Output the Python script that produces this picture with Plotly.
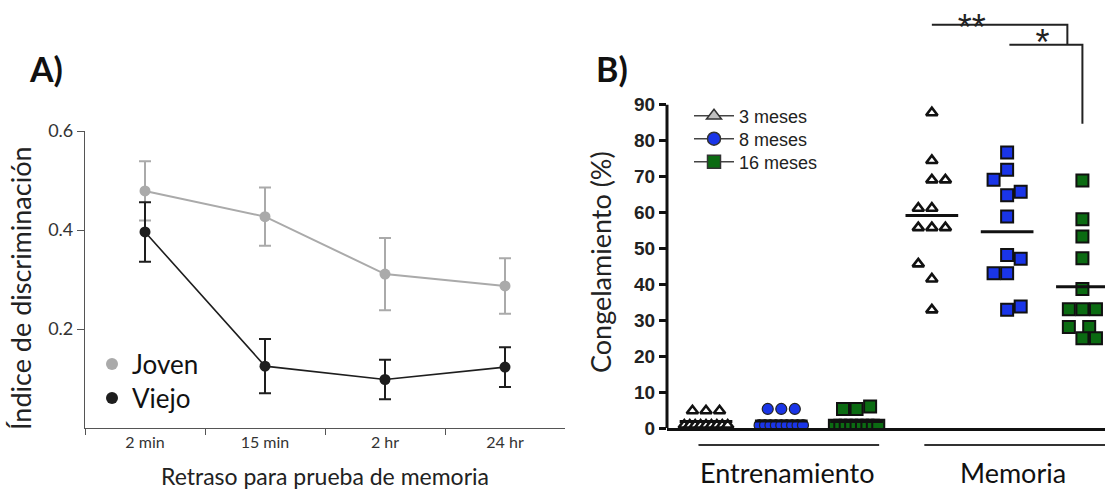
import numpy as np
import plotly.graph_objects as go

# ---------------- Panel A data ----------------
delays = ["2 min", "15 min", "2 hr", "24 hr"]
joven_mean = [0.479, 0.427, 0.311, 0.287]
joven_err = [0.060, 0.059, 0.073, 0.056]
viejo_mean = [0.396, 0.125, 0.098, 0.123]
viejo_err = [0.060, 0.055, 0.040, 0.040]
a_ticks = [0.2, 0.4, 0.6]

# ---------------- Panel B data ----------------
phases = ["Entrenamiento", "Memoria"]
ages = ["3 meses", "8 meses", "16 meses"]
# values (%) and beeswarm column index for each animal
ent_3m = [4.8, 4.8, 4.8, 0.8, 0.8, 0.8, 0.8, 0.8, 0.8, 0.8, 0.8, 0.8]
ent_3m_col = [-1, 0, 1, -1.6, -1.2, -0.8, -0.4, 0, 0.4, 0.8, 1.2, 1.6]
ent_8m = [5.3, 5.3, 5.3, 0.8, 0.8, 0.8, 0.8, 0.8, 0.8, 0.8, 0.8, 0.8]
ent_8m_col = [-1, 0, 1, -1.6, -1.2, -0.8, -0.4, 0, 0.4, 0.8, 1.2, 1.6]
ent_16m = [5.3, 5.3, 6.0, 0.6, 0.6, 0.6, 0.6, 0.6, 0.6, 0.6, 0.6, 0.6]
ent_16m_col = [-1, 0, 1, -1.6, -1.2, -0.8, -0.4, 0, 0.4, 0.8, 1.2, 1.6]
mem_3m = [87.8, 74.5, 69.1, 69.1, 61.2, 61.2, 55.8, 55.8, 55.8, 45.7, 41.5, 32.9]
mem_3m_col = [0, 0, 0, 1, -1, 0, -1, 0, 1, -1, 0, 0]
mem_8m = [76.7, 71.9, 69.1, 64.8, 65.8, 58.9, 48.2, 47.1, 43.1, 43.1, 32.9, 33.8]
mem_8m_col = [0, 0, -1, 0, 1, 0, 0, 1, -1, 0, 0, 1]
mem_16m = [68.9, 58.1, 53.3, 47.3, 38.7, 33.1, 33.1, 33.1, 28.1, 28.1, 25.0, 25.0]
mem_16m_col = [0, 0, 0, 0, 0, -1, 0, 1, -1, 0.5, 0, 1]
b_ticks = [0, 10, 20, 30, 40, 50, 60, 70, 80, 90]
# significance comparisons: (from group, to group, bracket level %, drop to %)
sig_labels = ["**", "*"]

# ---------------- styles ----------------
GRAY = "#aaaaaa"
DARK = "#1e1e1e"
BLUE = "#1a35e8"
GREEN = "#0b6b12"
FA = "Lato, Open Sans, sans-serif"
FB = "Liberation Sans, Arial, sans-serif"
W, H = 1113, 489
COLSTEP = 0.18

fig = go.Figure()

# ---- Panel A traces ----
fig.add_trace(go.Scatter(
    x=delays, y=joven_mean, mode="lines+markers", xaxis="x", yaxis="y",
    line=dict(color=GRAY, width=2), marker=dict(color=GRAY, size=11),
    error_y=dict(type="data", array=joven_err, color=GRAY, thickness=2, width=6),
    showlegend=False))
fig.add_trace(go.Scatter(
    x=delays, y=viejo_mean, mode="lines+markers", xaxis="x", yaxis="y",
    line=dict(color=DARK, width=1.6), marker=dict(color=DARK, size=11),
    error_y=dict(type="data", array=viejo_err, color=DARK, thickness=2, width=6),
    showlegend=False))
fig.add_trace(go.Scatter(x=[None], y=[None], mode="markers", name="Joven",
                         marker=dict(color=GRAY, size=12), legend="legend",
                         xaxis="x", yaxis="y"))
fig.add_trace(go.Scatter(x=[None], y=[None], mode="markers", name="Viejo",
                         marker=dict(color=DARK, size=12), legend="legend5",
                         xaxis="x", yaxis="y"))

# ---- Panel B traces ----
groups = [
    (0, 0, ent_3m, ent_3m_col), (0, 1, ent_8m, ent_8m_col), (0, 2, ent_16m, ent_16m_col),
    (1, 0, mem_3m, mem_3m_col), (1, 1, mem_8m, mem_8m_col), (1, 2, mem_16m, mem_16m_col),
]
tri = dict(symbol="triangle-up", size=10, color="white", line=dict(color="#111", width=2.6))
circ = dict(symbol="circle", size=11, color=BLUE, line=dict(color="#222", width=1.2))
sq_blue = dict(symbol="square", size=12, color=BLUE, line=dict(color="#111", width=2))
sq_green = dict(symbol="square", size=12, color=GREEN, line=dict(color="#111", width=2))
style = {(0, 0): tri, (0, 1): circ, (0, 2): sq_green,
         (1, 0): tri, (1, 1): sq_blue, (1, 2): sq_green}
for ph, ag, vals, cols in groups:
    pos = ph * 3 + ag
    xs = [pos + c * COLSTEP for c in cols]
    fig.add_trace(go.Scatter(x=xs, y=vals, mode="markers", xaxis="x2", yaxis="y2",
                             marker=style[(ph, ag)], showlegend=False))
    m = float(np.mean(vals))
    fig.add_trace(go.Scatter(x=[pos - 0.35, pos + 0.35], y=[m, m], mode="lines",
                             xaxis="x2", yaxis="y2", line=dict(color="#111", width=3),
                             showlegend=False))

leg_b = [
    dict(symbol="triangle-up", size=13, color="#c0c0c0", line=dict(color="#333", width=1.5)),
    dict(symbol="circle", size=13, color=BLUE, line=dict(color="#333", width=1.5)),
    dict(symbol="square", size=13, color=GREEN, line=dict(color="#333", width=1.5)),
]
for k, (name, mk) in enumerate(zip(ages, leg_b)):
    fig.add_trace(go.Scatter(x=[None], y=[None], mode="lines+markers", name=name,
                             line=dict(color="#444", width=1.5), marker=mk,
                             legend=f"legend{k + 2}", xaxis="x2", yaxis="y2"))

# significance brackets
fig.add_trace(go.Scatter(x=[3.0, 4.8, 4.8], y=[112.3, 112.3, 106.7], mode="lines",
                         xaxis="x2", yaxis="y2", line=dict(color="#222", width=2),
                         showlegend=False))
fig.add_trace(go.Scatter(x=[4.03, 5.0, 5.0], y=[106.7, 106.7, 84.7], mode="lines",
                         xaxis="x2", yaxis="y2", line=dict(color="#222", width=2),
                         showlegend=False))
fig.add_trace(go.Scatter(x=[3.53, 4.47], y=[110.6, 106.4], mode="text",
                         text=sig_labels, textposition="middle center",
                         textfont=dict(family=FB, size=36, color="#222"),
                         xaxis="x2", yaxis="y2", showlegend=False, cliponaxis=False))

ybot = 1 - 428 / H
leg_common = dict(xanchor="left", yanchor="middle", bgcolor="rgba(0,0,0,0)", tracegroupgap=0)
legB = dict(font=dict(family=FB, size=18, color="#222"), itemwidth=40, x=689 / W, **leg_common)
legA = dict(font=dict(family=FA, size=26, color="#111"), x=92 / W, **leg_common)
fig.update_layout(
    width=W, height=H, margin=dict(l=0, r=0, t=0, b=0, pad=0, autoexpand=False),
    paper_bgcolor="white", plot_bgcolor="white",
    xaxis=dict(domain=[85 / W, 565 / W], anchor="y", type="category", range=[-0.5, 3.5],
               tickson="boundaries", ticks="outside", ticklen=6, tickcolor="#555",
               showline=True, linecolor="#555", linewidth=1.2, showgrid=False,
               automargin=False,
               tickfont=dict(family=FA, size=16, color="#333")),
    yaxis=dict(domain=[ybot, 1 - 131 / H], anchor="x", range=[0, 0.6], tickvals=a_ticks,
               ticktext=[f"{v:.1f}" for v in a_ticks],
               ticks="outside", ticklen=7, tickcolor="#555",
               showline=True, linecolor="#555", linewidth=1.2, showgrid=False,
               zeroline=False, automargin=False,
               tickfont=dict(family=FA, size=18, color="#333")),
    xaxis2=dict(domain=[667 / W, 1105 / W], anchor="y2", range=[-0.518, 5.30],
                showticklabels=False, ticks="", showline=True, linecolor="#111",
                linewidth=3, showgrid=False, zeroline=False, automargin=False),
    yaxis2=dict(domain=[ybot, 1 - 10 / H], anchor="x2", range=[0, 116.4], tickvals=b_ticks,
                ticks="outside", ticklen=7, tickwidth=2.5, tickcolor="#111",
                showline=False, showgrid=False, zeroline=False, automargin=False,
                tickfont=dict(family=FB, size=19, color="#222", weight="bold")),
    legend=dict(y=1 - 364 / H, **legA),
    legend5=dict(y=1 - 398 / H, **legA),
    legend2=dict(y=1 - 116 / H, **legB),
    legend3=dict(y=1 - 139 / H, **legB),
    legend4=dict(y=1 - 162 / H, **legB),
)

fig.add_shape(type="line", xref="x2 domain", yref="y2", x0=0, x1=0, y0=0, y1=90,
              line=dict(color="#111", width=3))
for i, ph in enumerate(phases):
    fig.add_shape(type="line", xref="x2", yref="paper", x0=i * 3 - 0.1, x1=i * 3 + 2.3,
                  y0=1 - 445 / H, y1=1 - 445 / H, line=dict(color="#333", width=2))
    fig.add_annotation(x=i * 3 + 1.08, y=1 - 472 / H, xref="x2", yref="paper",
                       text=ph, showarrow=False, xanchor="center", yanchor="middle",
                       font=dict(family=FA, size=27, color="#111"))

ann = dict(xref="paper", yref="paper", showarrow=False, xanchor="center", yanchor="middle")
fig.add_annotation(x=325 / W, y=1 - 476 / H, text="Retraso para prueba de memoria",
                   font=dict(family=FA, size=23, color="#222"), **ann)
fig.add_annotation(x=20 / W, y=1 - 288 / H, text="Índice de discriminación", textangle=-90,
                   font=dict(family=FA, size=27, color="#222"), **ann)
fig.add_annotation(x=600 / W, y=1 - 262 / H, text="Congelamiento (%)", textangle=-90,
                   font=dict(family=FA, size=27, color="#222"), **ann)
fig.add_annotation(x=46 / W, y=1 - 69 / H, text="<b>A)</b>",
                   font=dict(family=FA, size=34, color="#111"), **ann)
fig.add_annotation(x=612 / W, y=1 - 68 / H, text="<b>B)</b>",
                   font=dict(family=FA, size=34, color="#111"), **ann)

fig.write_html("out.html", config={"displayModeBar": False},
               post_script="document.body.style.margin='0';document.body.style.padding='0';")
